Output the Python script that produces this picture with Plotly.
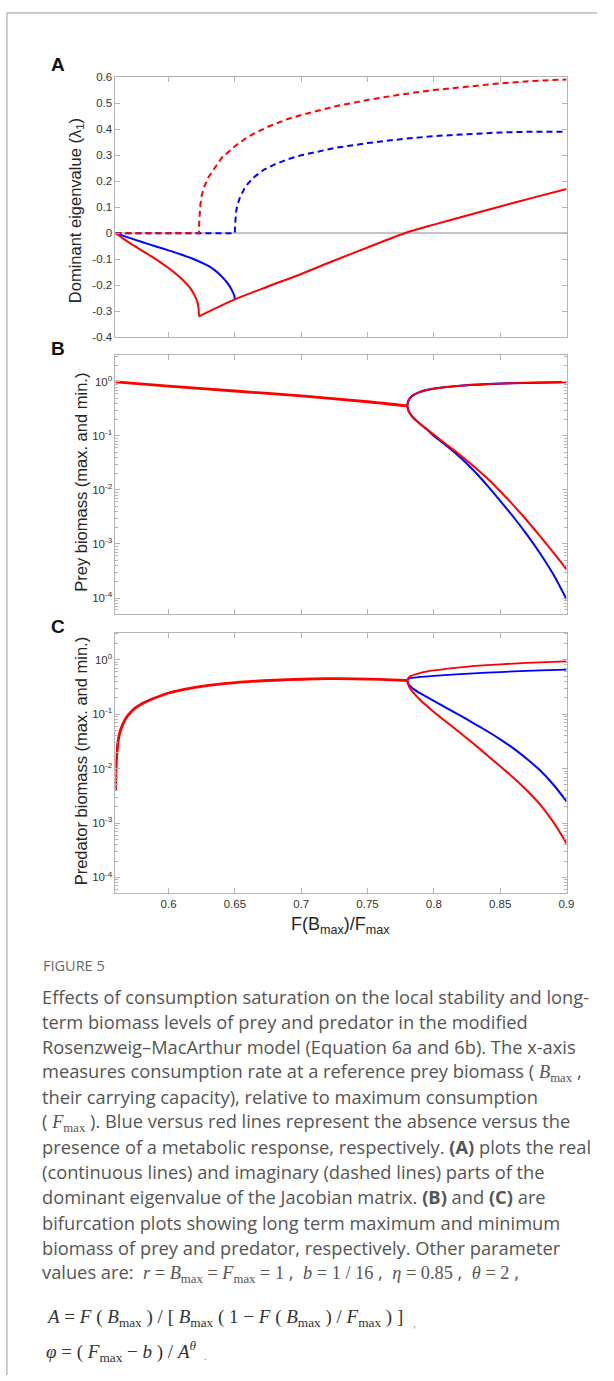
import plotly.graph_objects as go

# ---------------- DATA ----------------
# Panel A: dominant eigenvalue (real = solid, imaginary = dashed)
a_red_pre_x = [0.56, 0.565, 0.57, 0.575, 0.58, 0.585, 0.59, 0.595, 0.60, 0.605, 0.61, 0.615, 0.618, 0.62,
               0.622, 0.6226, 0.623]
a_red_pre_y = [0.0, -0.018, -0.035, -0.051, -0.067, -0.083, -0.099, -0.116, -0.134, -0.154, -0.176, -0.203,
               -0.224, -0.243, -0.27, -0.29, -0.32]
a_red_post_x = [0.623, 0.65, 0.675, 0.70, 0.725, 0.75, 0.778, 0.80, 0.825, 0.85, 0.875, 0.90]
a_red_post_y = [-0.32, -0.255, -0.205, -0.157, -0.105, -0.055, 0.0, 0.033, 0.068, 0.103, 0.137, 0.17]
a_blue_real_x = [0.56, 0.57, 0.58, 0.59, 0.60, 0.61, 0.62, 0.63, 0.635, 0.64, 0.645, 0.648, 0.6495, 0.65]
a_blue_real_y = [0.0, -0.017, -0.034, -0.05, -0.066, -0.083, -0.102, -0.126, -0.143, -0.166, -0.196, -0.222,
                 -0.24, -0.255]
a_red_imag_x = [0.56, 0.623, 0.6231, 0.6235, 0.624, 0.625, 0.627, 0.63, 0.635, 0.64, 0.65, 0.66, 0.675, 0.69,
                0.70, 0.725, 0.75, 0.775, 0.80, 0.825, 0.85, 0.875, 0.90]
a_red_imag_y = [0.0, 0.0, 0.04, 0.08, 0.11, 0.145, 0.18, 0.215, 0.255, 0.29, 0.335, 0.372, 0.41, 0.44,
                0.455, 0.488, 0.513, 0.534, 0.551, 0.565, 0.577, 0.586, 0.592]
a_blue_imag_x = [0.56, 0.65, 0.6501, 0.6505, 0.651, 0.652, 0.654, 0.657, 0.66, 0.665, 0.672, 0.68, 0.69,
                 0.70, 0.725, 0.75, 0.775, 0.80, 0.825, 0.85, 0.875, 0.90]
a_blue_imag_y = [0.0, 0.0, 0.03, 0.06, 0.085, 0.11, 0.14, 0.17, 0.192, 0.218, 0.245, 0.265, 0.285,
                 0.30, 0.328, 0.347, 0.362, 0.374, 0.382, 0.388, 0.391, 0.391]
a_ticks = [0.6, 0.5, 0.4, 0.3, 0.2, 0.1, 0.0, -0.1, -0.2, -0.3, -0.4]
a_ticktext = ["0.6", "0.5", "0.4", "0.3", "0.2", "0.1", "0", "-0.1", "-0.2", "-0.3", "-0.4"]

# Panel B: prey biomass
b_eq_x = [0.56, 0.60, 0.65, 0.70, 0.75, 0.78]
b_eq_y = [1.0, 0.84, 0.68, 0.55, 0.43, 0.36]
b_max_x = [0.78, 0.7803, 0.781, 0.7825, 0.785, 0.79, 0.80, 0.82, 0.84, 0.86, 0.88, 0.90]
b_max_y = [0.36, 0.41, 0.46, 0.52, 0.58, 0.66, 0.75, 0.85, 0.91, 0.95, 0.975, 0.99]
b_red_min_x = [0.78, 0.7805, 0.782, 0.785, 0.79, 0.795, 0.80, 0.81, 0.82, 0.83, 0.84, 0.85, 0.86, 0.87,
               0.88, 0.89, 0.90]
b_red_min_y = [0.36, 0.31, 0.26, 0.21, 0.165, 0.132, 0.105, 0.068, 0.044, 0.0275, 0.0166, 0.0095, 0.0052,
               0.00275, 0.0014, 0.0007, 0.00034]
b_blue_min_x = [0.78, 0.7805, 0.782, 0.785, 0.79, 0.795, 0.80, 0.81, 0.82, 0.83, 0.84, 0.85, 0.86, 0.87,
                0.88, 0.89, 0.90]
b_blue_min_y = [0.36, 0.31, 0.26, 0.21, 0.165, 0.13, 0.10, 0.0646, 0.0398, 0.0229, 0.0123, 0.0063, 0.00316,
                0.00151, 0.000676, 0.000275, 0.000095]

# Panel C: predator biomass
c_eq_x = [0.56, 0.5603, 0.5607, 0.5612, 0.562, 0.5635, 0.5655, 0.568, 0.571, 0.575, 0.58, 0.585, 0.59,
          0.60, 0.61, 0.62, 0.64, 0.66, 0.68, 0.70, 0.72, 0.74, 0.76, 0.78]
c_eq_y = [0.004, 0.008, 0.014, 0.021, 0.032, 0.048, 0.065, 0.085, 0.105, 0.13, 0.155, 0.178, 0.2,
          0.245, 0.28, 0.31, 0.36, 0.395, 0.42, 0.438, 0.448, 0.446, 0.435, 0.415]
c_red_max_x = [0.78, 0.7803, 0.781, 0.7825, 0.785, 0.79, 0.80, 0.82, 0.84, 0.86, 0.88, 0.90]
c_red_max_y = [0.415, 0.44, 0.47, 0.5, 0.53, 0.575, 0.635, 0.725, 0.795, 0.85, 0.895, 0.935]
c_blue_max_x = [0.78, 0.7803, 0.781, 0.7825, 0.785, 0.79, 0.80, 0.82, 0.84, 0.86, 0.88, 0.90]
c_blue_max_y = [0.415, 0.43, 0.445, 0.458, 0.468, 0.482, 0.505, 0.545, 0.578, 0.61, 0.638, 0.66]
c_red_min_x = [0.78, 0.7805, 0.782, 0.785, 0.79, 0.795, 0.80, 0.81, 0.82, 0.83, 0.84, 0.85, 0.86, 0.87,
               0.88, 0.89, 0.90]
c_red_min_y = [0.415, 0.36, 0.3, 0.24, 0.18, 0.14, 0.11, 0.07, 0.045, 0.0285, 0.0178, 0.011, 0.0068,
               0.004, 0.0022, 0.00105, 0.00042]
c_blue_min_x = [0.78, 0.7805, 0.782, 0.785, 0.79, 0.795, 0.80, 0.81, 0.82, 0.83, 0.84, 0.85, 0.86, 0.87,
                0.88, 0.89, 0.90]
c_blue_min_y = [0.415, 0.37, 0.33, 0.285, 0.24, 0.205, 0.175, 0.128, 0.094, 0.068, 0.049, 0.0345, 0.0235,
                0.0151, 0.0093, 0.0051, 0.0025]

log_ticks = [1, 0.1, 0.01, 0.001, 0.0001]
log_ticktext = ["10<sup>0</sup>", "10<sup>-1</sup>", "10<sup>-2</sup>", "10<sup>-3</sup>", "10<sup>-4</sup>"]
x_ticks = [0.6, 0.65, 0.7, 0.75, 0.8, 0.85, 0.9]
x_ticktext = ["0.6", "0.65", "0.7", "0.75", "0.8", "0.85", "0.9"]

SERIF = "<span style=\"font-family:'Liberation Serif'\">"
caption_lines = [
    "Effects of consumption saturation on the local stability and long-",
    "term biomass levels of prey and predator in the modified",
    "Rosenzweig–MacArthur model (Equation 6a and 6b). The x-axis",
    "measures consumption rate at a reference prey biomass ( " + SERIF + "<i>B</i><sub>max</sub></span> ,",
    "their carrying capacity), relative to maximum consumption",
    "( " + SERIF + "<i>F</i><sub>max</sub></span> ). Blue versus red lines represent the absence versus the",
    "presence of a metabolic response, respectively. <b>(A)</b> plots the real",
    "(continuous lines) and imaginary (dashed lines) parts of the",
    "dominant eigenvalue of the Jacobian matrix. <b>(B)</b> and <b>(C)</b> are",
    "bifurcation plots showing long term maximum and minimum",
    "biomass of prey and predator, respectively. Other parameter",
    "values are:  " + SERIF + "<i>r</i> = <i>B</i><sub>max</sub> = <i>F</i><sub>max</sub> = 1</span> ,  "
    + SERIF + "<i>b</i> = 1 / 16</span> ,  " + SERIF + "<i>η</i> = 0.85</span> ,  "
    + SERIF + "<i>θ</i> = 2</span> ,",
]
formula_lines = [
    "<i>A</i> = <i>F</i> ( <i>B</i><sub>max</sub> ) / [ <i>B</i><sub>max</sub> ( 1 − <i>F</i> ( <i>B</i><sub>max</sub> ) / <i>F</i><sub>max</sub> ) ]",
    "<i>φ</i> = ( <i>F</i><sub>max</sub> − <i>b</i> ) / <i>A</i><sup><i>θ</i></sup>",
]

# ---------------- LAYOUT HELPERS ----------------
W, H = 614, 1381
def px(x):
    return x / W
def py(y):
    return 1 - y / H

RED = "#ff0000"
BLUE = "#0000ff"
AX = "#b4b4b4"
TXT = "#262626"

X0, X1 = 117, 574
panels = {"A": (72, 334), "B": (352, 613), "C": (632, 895)}

fig = go.Figure()

def line(x, y, color, width, ax, dash=None, smooth=False):
    ln = dict(color=color, width=width)
    if dash:
        ln["dash"] = dash
    if smooth:
        ln["shape"] = "spline"
        ln["smoothing"] = 0.8
    fig.add_trace(go.Scatter(x=x, y=y, mode="lines", line=ln, xaxis="x" + ax, yaxis="y" + ax,
                             hoverinfo="skip"))

DASH = "6px,4px"
# Panel A
line(a_blue_imag_x, a_blue_imag_y, BLUE, 2, "", DASH)
line(a_red_imag_x, a_red_imag_y, RED, 2, "", DASH)
line(a_blue_real_x, a_blue_real_y, BLUE, 2, "", smooth=True)
line(a_red_pre_x, a_red_pre_y, RED, 2, "", smooth=True)
line(a_red_post_x, a_red_post_y, RED, 2, "", smooth=True)

# Panel B
line(b_max_x, b_max_y, BLUE, 2.2, "2", smooth=True)
line(b_blue_min_x, b_blue_min_y, BLUE, 2, "2", smooth=True)
line(b_eq_x, b_eq_y, RED, 2.8, "2", smooth=True)
line(b_max_x, b_max_y, RED, 1.8, "2", smooth=True)
line(b_red_min_x, b_red_min_y, RED, 2, "2", smooth=True)

# Panel C
line(c_blue_max_x, c_blue_max_y, BLUE, 1.8, "3", smooth=True)
line(c_blue_min_x, c_blue_min_y, BLUE, 2, "3", smooth=True)
line(c_eq_x, c_eq_y, RED, 2.8, "3", smooth=True)
line(c_red_max_x, c_red_max_y, RED, 1.8, "3", smooth=True)
line(c_red_min_x, c_red_min_y, RED, 2, "3", smooth=True)

tickfont = dict(family="Liberation Sans, Arial", size=11.5, color="#333333")

def xaxis_cfg(anchor, show_labels):
    return dict(domain=[px(X0), px(X1)], anchor=anchor, range=[0.56, 0.9],
                tickvals=x_ticks, ticktext=x_ticktext, showticklabels=show_labels,
                ticks="inside", ticklen=5, tickcolor=AX, showline=True, linecolor=AX, linewidth=1,
                mirror="ticks", showgrid=False, zeroline=False, tickfont=tickfont)

def ylog_cfg(anchor, top, bottom):
    return dict(domain=[py(bottom), py(top)], anchor=anchor, type="log", range=[-4.29, 0.5],
                tickvals=log_ticks, ticktext=log_ticktext, ticks="inside", ticklen=5, tickcolor=AX,
                showline=True, linecolor=AX, linewidth=1, mirror="ticks", showgrid=False,
                zeroline=False, tickfont=dict(family="Liberation Sans, Arial", size=11.5, color="#333333"),
                minor=dict(ticks="inside", ticklen=3, tickcolor=AX, dtick="D1", showgrid=False))

fig.update_layout(
    width=W, height=H, margin=dict(l=0, r=0, t=0, b=0),
    paper_bgcolor="white", plot_bgcolor="white", showlegend=False,
    xaxis=xaxis_cfg("y", False),
    yaxis=dict(domain=[py(panels["A"][1]), py(panels["A"][0])], anchor="x", range=[-0.4, 0.6],
               tickvals=a_ticks, ticktext=a_ticktext, ticks="inside", ticklen=5, tickcolor=AX,
               showline=True, linecolor=AX, linewidth=1, mirror="ticks", showgrid=False,
               zeroline=True, zerolinecolor="#c4c4c4", zerolinewidth=2, tickfont=tickfont),
    xaxis2=xaxis_cfg("y2", False),
    yaxis2=ylog_cfg("x2", *panels["B"]),
    xaxis3=xaxis_cfg("y3", True),
    yaxis3=ylog_cfg("x3", *panels["C"]),
)

ann = []
for letter, (xx, yy) in {"A": (59, 59), "B": (59, 345), "C": (59, 626)}.items():
    ann.append(dict(x=px(xx), y=py(yy), xref="paper", yref="paper", text=f"<b>{letter}</b>",
                    showarrow=False, xanchor="center", yanchor="middle",
                    font=dict(family="Liberation Sans, Arial", size=19, color="#111111")))
ytitles = [("Dominant eigenvalue (λ<sub>1</sub>)", 77, 206),
           ("Prey biomass (max. and min.)", 82, 480),
           ("Predator biomass (max. and min.)", 82, 761)]
for t, xx, yy in ytitles:
    ann.append(dict(x=px(xx), y=py(yy), xref="paper", yref="paper", text=t, textangle=-90,
                    showarrow=False, xanchor="center", yanchor="middle",
                    font=dict(family="Liberation Sans, Arial", size=16.5, color=TXT)))
ann.append(dict(x=px(345), y=py(928), xref="paper", yref="paper",
                text="F(B<sub>max</sub>)/F<sub>max</sub>", showarrow=False,
                xanchor="center", yanchor="middle",
                font=dict(family="Liberation Sans, Arial", size=18, color=TXT)))
ann.append(dict(x=px(42), y=py(968), xref="paper", yref="paper", text="FIGURE 5", showarrow=False,
                xanchor="left", yanchor="middle",
                font=dict(family="Open Sans", size=14.5, color="#666666")))
for i, line_txt in enumerate(caption_lines):
    ann.append(dict(x=px(41), y=py(999 + 25.3 * i), xref="paper", yref="paper", text=line_txt,
                    showarrow=False, xanchor="left", yanchor="middle",
                    font=dict(family="Open Sans", size=18.3, color="#555555")))
for i, line_txt in enumerate(formula_lines):
    ann.append(dict(x=px(45), y=py(1324 + 33 * i), xref="paper", yref="paper", text=line_txt,
                    showarrow=False, xanchor="left", yanchor="middle",
                    font=dict(family="Liberation Serif", size=19, color="#333333")))
ann.append(dict(x=px(424), y=py(1337), xref="paper", yref="paper", text=",", showarrow=False,
                font=dict(family="Liberation Serif", size=11, color="#888888")))
ann.append(dict(x=px(208), y=py(1370), xref="paper", yref="paper", text=".", showarrow=False,
                font=dict(family="Liberation Serif", size=11, color="#888888")))
fig.update_layout(annotations=ann)

fig.update_layout(shapes=[
    dict(type="line", xref="paper", yref="paper", x0=px(7), x1=px(7), y0=0, y1=py(7),
         line=dict(color="#9a9a9a", width=1)),
    dict(type="line", xref="paper", yref="paper", x0=px(7), x1=px(605), y0=py(7), y1=py(7),
         line=dict(color="#9a9a9a", width=1)),
])

fig.write_html("out.html", config={"displayModeBar": False},
               post_script="document.body.style.margin='0px';document.body.style.overflow='hidden';")
